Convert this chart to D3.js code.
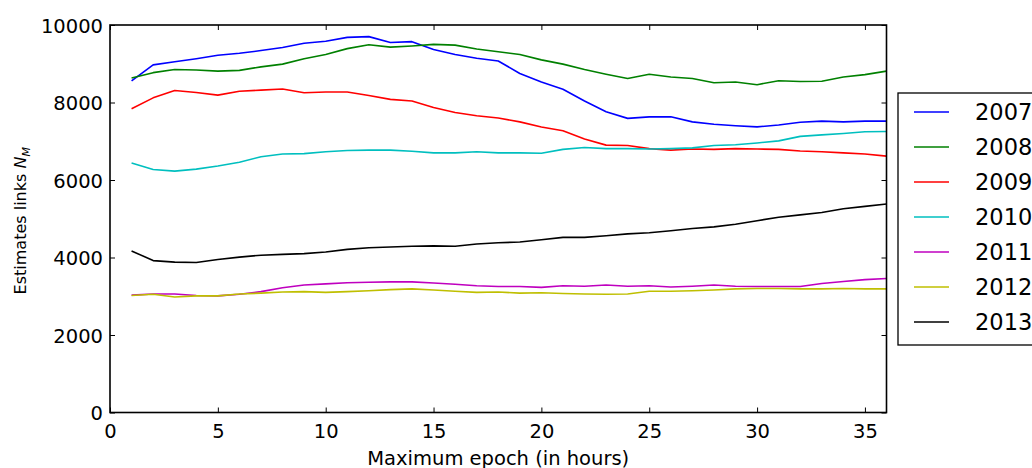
<!DOCTYPE html>
<html>
<head>
<meta charset="utf-8">
<script src="https://cdn.jsdelivr.net/npm/d3@7"></script>
<style>
  html, body { margin: 0; padding: 0; background: #fff; }
  svg { display: block; font-family: "DejaVu Sans", sans-serif; }
</style>
</head>
<body>
<svg id="chart" width="1032" height="468"></svg>
<script>
// Maximum epoch (hours) for each estimate
const epochs = d3.range(1, 37);

// Estimated number of links N_M per year
const years = ["2007", "2008", "2009", "2010", "2011", "2012", "2013"];
const colors = ["#0000ff", "#008000", "#ff0000", "#00bfbf", "#bf00bf", "#bfbf00", "#000000"];

const s2007 = [8560, 8970, 9050, 9130, 9220, 9270, 9340, 9420, 9530, 9580, 9680, 9700,
               9550, 9570, 9370, 9240, 9140, 9070, 8750, 8530, 8340, 8040, 7760, 7590,
               7630, 7630, 7500, 7440, 7400, 7370, 7420, 7490, 7520, 7500, 7520, 7520];
const s2008 = [8630, 8770, 8850, 8840, 8810, 8830, 8920, 8990, 9130, 9240, 9390, 9490,
               9430, 9460, 9500, 9480, 9380, 9310, 9240, 9100, 8990, 8850, 8730, 8620,
               8730, 8660, 8620, 8510, 8530, 8460, 8560, 8540, 8550, 8660, 8720, 8810];
const s2009 = [7840, 8120, 8310, 8260, 8190, 8290, 8320, 8350, 8250, 8270, 8270, 8180,
               8080, 8040, 7870, 7740, 7660, 7600, 7500, 7370, 7270, 7060, 6900, 6890,
               6810, 6770, 6800, 6790, 6810, 6800, 6790, 6750, 6730, 6700, 6670, 6615];
const s2010 = [6440, 6270, 6230, 6280, 6360, 6460, 6600, 6670, 6680, 6730, 6760, 6770,
               6770, 6740, 6700, 6700, 6730, 6700, 6700, 6690, 6790, 6840, 6810, 6810,
               6800, 6810, 6830, 6890, 6910, 6955, 7010, 7125, 7165, 7200, 7245, 7250];
const s2011 = [3030, 3060, 3060, 3020, 3010, 3050, 3120, 3220, 3290, 3320, 3350, 3360,
               3370, 3370, 3340, 3310, 3270, 3250, 3250, 3230, 3270, 3260, 3290, 3260,
               3270, 3240, 3260, 3290, 3260, 3250, 3250, 3250, 3330, 3380, 3430, 3460];
const s2012 = [3020, 3050, 2980, 3010, 3010, 3060, 3080, 3110, 3120, 3100, 3120, 3140,
               3170, 3190, 3160, 3130, 3100, 3110, 3080, 3090, 3070, 3060, 3050, 3060,
               3130, 3130, 3140, 3160, 3190, 3200, 3200, 3190, 3190, 3200, 3190, 3190];
const s2013 = [4170, 3920, 3880, 3870, 3950, 4010, 4060, 4080, 4100, 4140, 4210, 4250,
               4270, 4290, 4300, 4290, 4350, 4380, 4400, 4460, 4520, 4520, 4560, 4610,
               4640, 4690, 4750, 4790, 4860, 4950, 5040, 5100, 5160, 5260, 5320, 5380];

const seriesValues = [s2007, s2008, s2009, s2010, s2011, s2012, s2013];

const xTicks = [0, 5, 10, 15, 20, 25, 30, 35];
const yTicks = [0, 2000, 4000, 6000, 8000, 10000];

const svg = d3.select("#chart");
const plotLeft = 110, plotRight = 886.5, plotTop = 25, plotBottom = 412.5;

const x = d3.scaleLinear().domain([0, 36]).range([plotLeft, plotRight]);
const y = d3.scaleLinear().domain([0, 10000]).range([plotBottom, plotTop]);

const tickLen = 5;
const tickFont = 19.5;

// Series lines
const line = d3.line().x((d, i) => x(epochs[i])).y(d => y(d));
const plot = svg.append("g");
seriesValues.forEach((vals, k) => {
  plot.append("path")
    .datum(vals)
    .attr("fill", "none")
    .attr("stroke", colors[k])
    .attr("stroke-width", 1.6)
    .attr("stroke-linejoin", "round")
    .attr("d", line);
});

// Axes with inward ticks on all four sides
const fmt = d3.format("d");
const axisBottom = d3.axisBottom(x).tickValues(xTicks).tickFormat(fmt).tickSizeInner(-tickLen).tickSizeOuter(0).tickPadding(7);
const axisTop = d3.axisTop(x).tickValues(xTicks).tickSizeInner(-tickLen).tickSizeOuter(0).tickFormat("");
const axisLeft = d3.axisLeft(y).tickValues(yTicks).tickFormat(fmt).tickSizeInner(-tickLen).tickSizeOuter(0).tickPadding(7);
const axisRight = d3.axisRight(y).tickValues(yTicks).tickSizeInner(-tickLen).tickSizeOuter(0).tickFormat("");

function style(g) {
  g.select(".domain").remove();
  g.selectAll(".tick line").attr("stroke", "#000").attr("stroke-width", 1);
  g.selectAll(".tick text").attr("fill", "#000").style("font-size", tickFont + "px")
    .style("font-family", "'DejaVu Sans', sans-serif");
}

svg.append("g").attr("transform", `translate(0,${plotBottom})`).call(axisBottom).call(style)
  .selectAll(".tick text").attr("y", 25).attr("dy", 0);
svg.append("g").attr("transform", `translate(0,${plotTop})`).call(axisTop).call(style);
svg.append("g").attr("transform", `translate(${plotLeft},0)`).call(axisLeft).call(style)
  .selectAll(".tick text").attr("dy", "0.36em");
svg.append("g").attr("transform", `translate(${plotRight},0)`).call(axisRight).call(style);

// Frame
svg.append("rect")
  .attr("x", plotLeft).attr("y", plotTop)
  .attr("width", plotRight - plotLeft).attr("height", plotBottom - plotTop)
  .attr("fill", "none").attr("stroke", "#000").attr("stroke-width", 1.6);

// Axis titles
svg.append("text")
  .attr("x", (plotLeft + plotRight) / 2).attr("y", 465)
  .attr("text-anchor", "middle")
  .style("font-size", "19.5px")
  .text("Maximum epoch (in hours)");

const yLabel = svg.append("text")
  .attr("transform", `translate(26,${(plotTop + plotBottom) / 2 + 2}) rotate(-90)`)
  .attr("text-anchor", "middle")
  .style("font-size", "16px");
yLabel.append("tspan").text("Estimates links ");
yLabel.append("tspan").style("font-style", "italic").text("N");
yLabel.append("tspan").style("font-style", "italic").style("font-size", "11px")
  .attr("dy", 4).text("M");

// Legend
const lg = svg.append("g");
lg.append("rect")
  .attr("x", 898).attr("y", 93).attr("width", 150).attr("height", 252)
  .attr("fill", "#fff").attr("stroke", "#000").attr("stroke-width", 1.3);
years.forEach((yr, k) => {
  const cy = 112 + k * 35;
  lg.append("line")
    .attr("x1", 914).attr("x2", 949).attr("y1", cy).attr("y2", cy)
    .attr("stroke", colors[k]).attr("stroke-width", 1.6);
  lg.append("text")
    .attr("x", 975).attr("y", cy).attr("dy", "0.36em")
    .style("font-size", "22.5px")
    .text(yr);
});
</script>
</body>
</html>
